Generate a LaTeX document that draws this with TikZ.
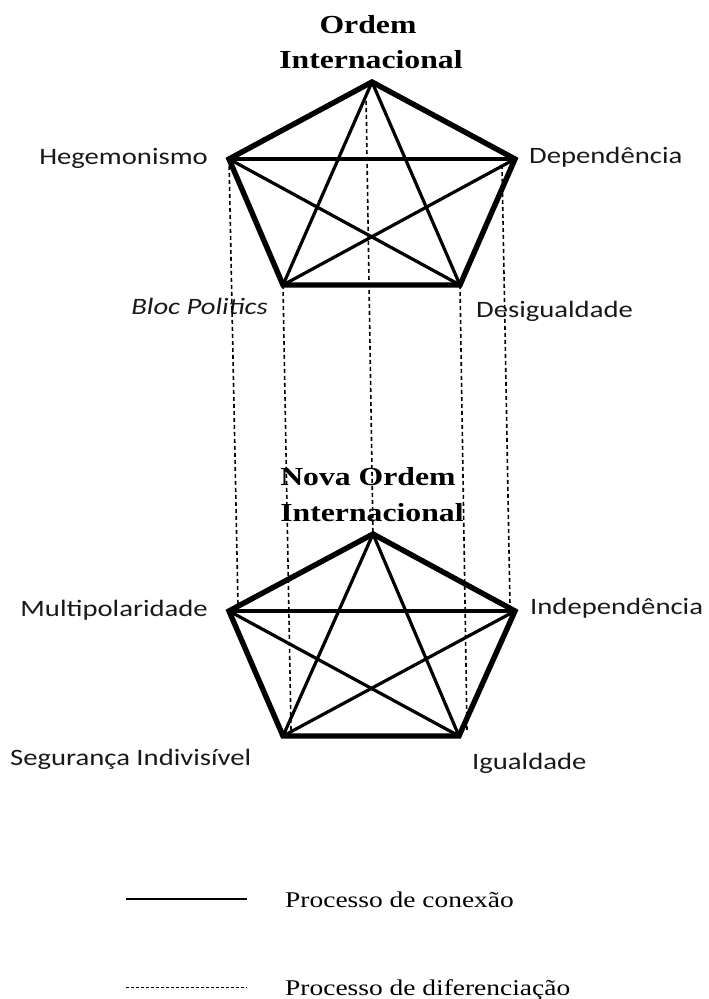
\documentclass[tikz,border=0pt]{standalone}
\usepackage{fontspec}
\setmainfont{Liberation Serif}[FakeStretch=1.22]
\newfontfamily\fonterotulo{Carlito}[FakeStretch=1.22]

\tikzset{
  borda/.style={line width=5.4pt},
  diagonal/.style={line width=3.2pt},
  diferenca/.style={line width=1.6pt, dash pattern=on 4pt off 3pt},
  rotulo/.style={font=\fonterotulo\fontsize{23.5}{28}\selectfont, text=black!90, inner sep=0pt},
  titulo/.style={font=\bfseries\fontsize{26}{32}\selectfont, inner sep=0pt},
  legenda/.style={font=\fontsize{22.5}{27}\selectfont, inner sep=0pt}
}

\begin{document}
\begin{tikzpicture}[x=1pt, y=-1pt]
    \useasboundingbox (0,0) rectangle (709,999);

    % PRIMEIRO PENTAGONO (Ordem Internacional)
    \coordinate (oA) at (372,82);
    \coordinate (oB) at (229,159);
    \coordinate (oC) at (515,159);
    \coordinate (oD) at (283,285);
    \coordinate (oE) at (460,285);
    \draw[diagonal] (oB) -- (oC);
    \draw[diagonal] (oB) -- (oE);
    \draw[diagonal] (oC) -- (oD);
    \draw[diagonal] (oA) -- (oD);
    \draw[diagonal] (oA) -- (oE);
    \draw[borda] (oA) -- (oC) -- (oE) -- (oD) -- (oB) -- cycle;

    \node[titulo, anchor=base] (ordem) at (368,33) {Ordem};
    \node[titulo, anchor=base] (ordemint) at (371,68) {Internacional};
    \node[rotulo, anchor=base east] (hegem) at (208,164) {Hegemonismo};
    \node[rotulo, anchor=base west] (depend) at (529,163) {Dependência};
    \node[rotulo, anchor=base east] (bloc) at (268,314) {\itshape Bloc Politics};
    \node[rotulo, anchor=base west] (desig) at (476,317) {Desigualdade};

    % SEGUNDO PENTAGONO (Nova Ordem Internacional)
    \coordinate (nA) at (373,534);
    \coordinate (nB) at (229,611);
    \coordinate (nC) at (515,611);
    \coordinate (nD) at (283,736);
    \coordinate (nE) at (459,736);
    \draw[diagonal] (nB) -- (nC);
    \draw[diagonal] (nB) -- (nE);
    \draw[diagonal] (nC) -- (nD);
    \draw[diagonal] (nA) -- (nD);
    \draw[diagonal] (nA) -- (nE);
    \draw[borda] (nA) -- (nC) -- (nE) -- (nD) -- (nB) -- cycle;

    \node[titulo, anchor=base] (nova) at (368,485) {Nova Ordem};
    \node[titulo, anchor=base] (novaint) at (372,521) {Internacional};
    \node[rotulo, anchor=base east] (multi) at (208,616) {Multipolaridade};
    \node[rotulo, anchor=base west] (indep) at (530,614) {Independência};
    \node[rotulo, anchor=base west] (segur) at (10,765) {Segurança Indivisível};
    \node[rotulo, anchor=base west] (igual) at (472,769) {Igualdade};

    % LINHAS DE DIFERENCIACAO (entre os dois pentagonos)
    \draw[diferenca] (oB) -- ([xshift=9pt, yshift=6pt]nB);
    \draw[diferenca] (oD) -- ([xshift=8pt, yshift=6pt]nD);
    \draw[diferenca] ([xshift=-6pt, yshift=-12pt]oA) -- (nA);
    \draw[diferenca] (oE) -- ([xshift=8pt, yshift=6pt]nE);
    \draw[diferenca] ([xshift=-13pt, yshift=-6pt]oC) -- ([xshift=-5pt, yshift=6pt]nC);

    % LEGENDA
    \coordinate (conA) at (126,899);
    \coordinate (conB) at (247,899);
    \draw[line width=2.4pt] (conA) -- (conB);
    \node[legenda, anchor=base west] (conexao) at (285,907) {Processo de conexão};

    \coordinate (difA) at (126,987);
    \coordinate (difB) at (247,987);
    \draw[line width=1pt, dash pattern=on 3pt off 2pt] (difA) -- (difB);
    \node[legenda, anchor=base west] (diferen) at (285,995) {Processo de diferenciação};
\end{tikzpicture}
\end{document}
